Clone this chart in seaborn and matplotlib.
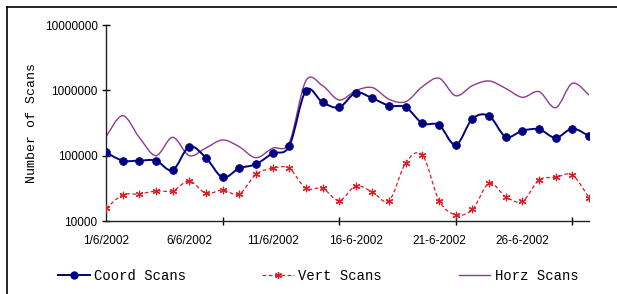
import numpy as np
import pandas as pd
import matplotlib
matplotlib.use("Agg")
import matplotlib.pyplot as plt
from matplotlib.path import Path
from matplotlib.patches import PathPatch
from matplotlib.lines import Line2D
import seaborn as sns

days = list(range(1, 31))
coord_scans = [112000, 84000, 84000, 84000, 60000, 137000, 93000, 46600, 64000, 74000,
               108000, 140000, 990000, 656000, 550000, 920000, 755000, 582000, 550000, 313000,
               294000, 146000, 368000, 405000, 195000, 241000, 253000, 188000, 259000, 200000]
vert_scans = [15600, 25000, 25900, 28800, 29000, 40900, 26500, 29800, 25900, 51900,
              64000, 64000, 31600, 31600, 20500, 34300, 27800, 20500, 78000, 102000,
              20500, 12400, 15000, 37800, 23500, 20000, 42400, 46700, 50600, 22700]
horz_scans = [195000, 410000, 190000, 100000, 191000, 100000, 131000, 174000, 137000, 93000,
              130000, 158000, 1400000, 1180000, 710000, 990000, 1100000, 728000, 670000, 1140000,
              1530000, 827000, 1180000, 1390000, 1070000, 782000, 955000, 542000, 1280000, 849000]
x_labels = ["1/6/2002", "6/6/2002", "11/6/2002", "16-6-2002", "21-6-2002", "26-6-2002"]
y_ticks = [10000, 100000, 1000000, 10000000]
series_names = ["Coord Scans", "Vert Scans", "Horz Scans"]

df = pd.DataFrame({
    "idx": np.arange(len(days)),
    "Coord Scans": coord_scans,
    "Vert Scans": vert_scans,
    "Horz Scans": horz_scans,
})

C_BLUE = "#000080"
C_RED = "#e01c24"
C_PURP = "#8e3c8e"

fig = plt.figure(figsize=(6.17, 2.94), dpi=100)
ax = fig.add_axes([106/617, 1-221/294, (589-106)/617, (221-25)/294])
ax.set_yscale("log")
ax.set_xlim(0, 29)
ax.set_ylim(1e4, 1e7)


def smooth_path(xs, ys):
    xs = np.asarray(xs, float)
    ly = np.log10(np.asarray(ys, float))
    n = len(xs)
    P = np.column_stack([xs, ly])
    verts = [P[0]]
    codes = [Path.MOVETO]
    for i in range(n - 1):
        p0 = P[i - 1] if i > 0 else P[i]
        p1 = P[i]
        p2 = P[i + 1]
        p3 = P[i + 2] if i + 2 < n else P[i + 1]
        c1 = p1 + (p2 - p0) / 6.0
        c2 = p2 - (p3 - p1) / 6.0
        verts += [c1, c2, p2]
        codes += [Path.CURVE4] * 3
    V = np.array(verts)
    V[:, 1] = 10 ** V[:, 1]
    return Path(V, codes)


for col, color, ls, lw in [("Horz Scans", C_PURP, "-", 1.0),
                           ("Vert Scans", C_RED, (0, (3, 2)), 0.9),
                           ("Coord Scans", C_BLUE, "-", 1.4)]:
    p = smooth_path(df["idx"], df[col])
    ax.add_patch(PathPatch(p, fill=False, edgecolor=color, linestyle=ls, linewidth=lw,
                           transform=ax.transData, zorder=2))

sns.scatterplot(data=df, x="idx", y="Coord Scans", ax=ax, color=C_BLUE, marker="o",
                s=32, edgecolor=C_BLUE, linewidth=0.5, zorder=3)
sns.scatterplot(data=df, x="idx", y="Vert Scans", ax=ax, color=C_RED, marker=(6, 2, 0),
                s=22, linewidth=0.9, zorder=3)

ax.set_xlabel("")
ax.set_ylabel("Number of Scans", fontsize=9.5, family="Liberation Mono")
ax.yaxis.set_label_coords(-0.14, 0.5)

ax.set_yticks(y_ticks)
ax.set_yticklabels([str(v) for v in y_ticks], fontsize=8.5, family="Liberation Sans")
ax.yaxis.set_minor_locator(matplotlib.ticker.NullLocator())
ax.tick_params(axis="y", which="major", direction="inout", length=6, width=1, pad=3)

ax.set_xticks([7, 14, 21, 28])
ax.set_xticklabels([])
ax.set_xticks([0, 5, 10, 15, 20, 25], minor=True)
ax.set_xticklabels(x_labels, minor=True, fontsize=8.5, family="Liberation Sans")
ax.tick_params(axis="x", which="major", direction="inout", length=6, width=1)
ax.tick_params(axis="x", which="minor", length=0, pad=10)

for s in ["top", "right"]:
    ax.spines[s].set_visible(False)
for s in ["left", "bottom"]:
    ax.spines[s].set_color("#222222")
    ax.spines[s].set_linewidth(1.0)
ax.set_facecolor("white")

handles = [
    Line2D([], [], color=C_BLUE, lw=1.4, marker="o", markersize=5),
    Line2D([], [], color=C_RED, lw=0.9, linestyle=(0, (3, 2)), marker=(6, 2, 0), markersize=5),
    Line2D([], [], color=C_PURP, lw=1.0),
]
fig.legend(handles, series_names, loc="center", bbox_to_anchor=(318/617, 1-276/294),
           ncol=3, frameon=False, handlelength=2.3, handletextpad=0.3, columnspacing=5.5,
           prop={"family": "Liberation Mono", "size": 10})

fig.add_artist(Line2D([7/617, 7/617], [0, 1-7/294], color="black", lw=1.2, transform=fig.transFigure))
fig.add_artist(Line2D([7/617, 1], [1-7/294, 1-7/294], color="black", lw=1.2, transform=fig.transFigure))

fig.savefig("out.png", dpi=100)
